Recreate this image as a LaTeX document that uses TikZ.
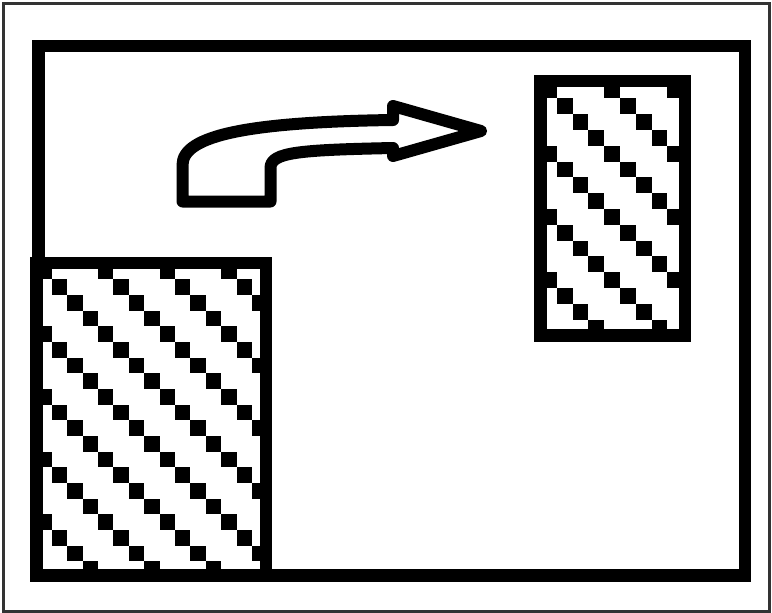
\documentclass[tikz,border=0pt]{standalone}
\usepackage{tikz}
\tikzset{
  thickline/.style={draw=black, line width=12.5pt},
  cell/.style={fill=black},
  frameline/.style={draw=black!80, line width=3pt}
}
\begin{document}
\begin{tikzpicture}[x=1pt,y=-1pt]
\useasboundingbox (0,0) rectangle (772,613);
\fill[white] (0,0) rectangle (772,613);
% thin outer border
\draw[frameline] (3.5,3.5) rectangle (769.5,611);
% big frame
\draw[thickline, line join=miter] (38.5,46) rectangle (745,575.5);
% lower-left hatched rectangle
\fill[white] (36.5,263) rectangle (266,575.5);
\begin{scope}
  \clip (36.5,263) rectangle (266,575.5);
  \foreach \r in {-1,...,19}{
    \foreach \j in {-6,...,4}{
      \fill[cell] ({51.7+15.4*(\r+4*\j)},{279.3+15.67*\r}) rectangle +(15.4,15.67);
    }
  }
\end{scope}
\draw[thickline, line join=miter] (36.5,263) rectangle (266,575.5);
% upper-right hatched rectangle
\fill[white] (540.3,81) rectangle (685,335.5);
\begin{scope}
  \clip (540.3,81) rectangle (685,335.5);
  \foreach \r in {-1,...,16}{
    \foreach \j in {-6,...,4}{
      \fill[cell] ({556.7+15.8*(\r+4*\j)},{98.3+15.8*\r}) rectangle +(15.8,15.8);
    }
  }
\end{scope}
\draw[thickline, line join=miter] (540.3,81) rectangle (685,335.5);
% curved arrow outline
\coordinate (a1) at (182.5,201.5);
\coordinate (a2) at (270.5,201.5);
\coordinate (a3) at (270.5,168);
\coordinate (a4) at (393,148);
\coordinate (a5) at (393,156);
\coordinate (tip) at (481,131);
\coordinate (a6) at (393,106);
\coordinate (a7) at (393,120);
\coordinate (a8) at (182.5,165);
\draw[line width=12pt, line join=round, line cap=round]
  (a1) -- (a2) -- (a3) .. controls (270.5,152) and (300,150) .. (a4)
  -- (a5) -- (tip) -- (a6) -- (a7)
  .. controls (250,122) and (182.5,135) .. (a8) -- cycle;
\end{tikzpicture}
\end{document}
